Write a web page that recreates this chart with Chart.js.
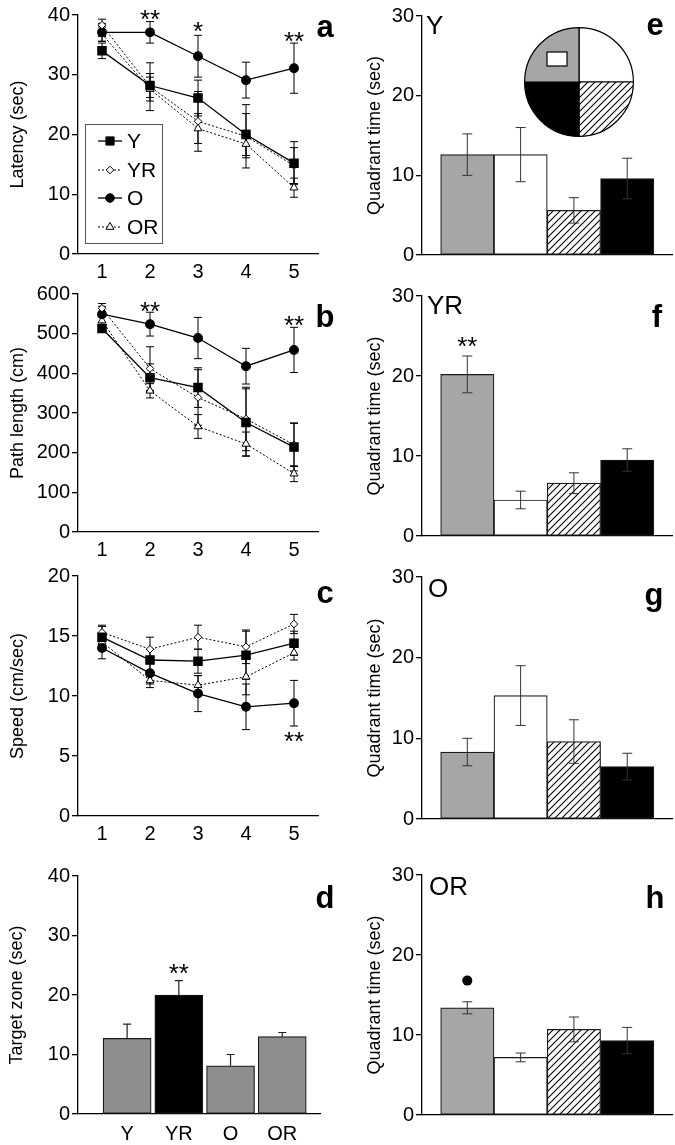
<!DOCTYPE html>
<html>
<head>
<meta charset="utf-8">
<script src="https://cdn.jsdelivr.net/npm/chart.js@4.4.0/dist/chart.umd.min.js"></script>
<style>
  html, body { margin: 0; padding: 0; background: #fff; }
  #wrap { position: relative; width: 675px; height: 1145px; overflow: hidden; }
  canvas { position: absolute; }
</style>
</head>
<body>
<div id="wrap">
  <canvas id="a" width="337" height="280" style="left:0;top:0"></canvas>
  <canvas id="b" width="337" height="280" style="left:0;top:280px"></canvas>
  <canvas id="c" width="337" height="280" style="left:0;top:560px"></canvas>
  <canvas id="d" width="337" height="305" style="left:0;top:840px"></canvas>
  <canvas id="e" width="338" height="280" style="left:337px;top:0"></canvas>
  <canvas id="f" width="338" height="280" style="left:337px;top:280px"></canvas>
  <canvas id="g" width="338" height="280" style="left:337px;top:560px"></canvas>
  <canvas id="h" width="338" height="305" style="left:337px;top:840px"></canvas>
  <canvas id="pie" width="110" height="110" style="left:524px;top:27px"></canvas>
</div>
<script>
const groups = ['Y', 'YR', 'O', 'OR'];
const days = ['1', '2', '3', '4', '5'];

// rows: Y, YR, O, OR
const latency = [
  [34, 28.2, 26.1, 20, 15.2],
  [38.3, 28, 22.2, 19.7, 14.8],
  [37.1, 37.1, 33.1, 29.1, 31.1],
  [36.8, 27.6, 21, 18.4, 11.1]
];
const latencyErr = [
  [1.3, 2.0, 3.0, 3.5, 3.6],
  [1.0, 4.0, 5.0, 5.3, 3.0],
  [1.5, 1.8, 3.5, 3.0, 4.2],
  [1.2, 2.0, 2.5, 2.3, 1.6]
];
const pathLen = [
  [513, 389, 364, 276, 214],
  [564, 412, 339, 285, 220],
  [549, 524, 489, 418, 459],
  [533, 356, 266, 222, 147]
];
const pathErr = [
  [10, 35, 50, 85, 60],
  [12, 55, 70, 80, 55],
  [20, 30, 52, 45, 57],
  [15, 18, 30, 30, 20]
];
const speed = [
  [14.9, 13.0, 12.9, 13.4, 14.4],
  [15.3, 13.9, 14.9, 14.1, 16.0],
  [14.0, 11.9, 10.2, 9.1, 9.4],
  [14.5, 11.3, 10.9, 11.6, 13.6]
];
const speedErr = [
  [0.9, 0.9, 1.0, 2.0, 1.0],
  [0.6, 1.0, 1.0, 1.4, 0.8],
  [0.9, 0.9, 1.5, 1.9, 1.9],
  [0.7, 0.6, 0.8, 1.5, 0.6]
];

const targetZone = [12.7, 20, 8.1, 13];
const targetErr = [2.4, 2.4, 1.9, 0.7];

// quadrants: target (gray), white, hatched, black
const quadY = [12.6, 12.6, 5.6, 9.6];
const quadYErr = [2.6, 3.4, 1.6, 2.55];
const quadYR = [20.2, 4.5, 6.6, 9.5];
const quadYRErr = [2.3, 1.1, 1.3, 1.4];
const quadO = [8.3, 15.3, 9.6, 6.5];
const quadOErr = [1.7, 3.7, 2.7, 1.65];
const quadOR = [13.4, 7.2, 10.7, 9.3];
const quadORErr = [0.75, 0.55, 1.55, 1.65];

const pieParts = [1, 1, 1, 1]; // white, hatched, black, gray (clockwise from top)

const FONT = '"Liberation Sans", Arial, Helvetica, sans-serif';
Chart.defaults.font.family = FONT;
Chart.defaults.color = '#000';

function makeHatch() {
  const t = document.createElement('canvas');
  t.width = 7; t.height = 7;
  const c = t.getContext('2d');
  c.fillStyle = '#fff';
  c.fillRect(0, 0, 7, 7);
  c.strokeStyle = '#000';
  c.lineWidth = 1.1;
  c.beginPath();
  c.moveTo(0, 7); c.lineTo(7, 0);
  c.moveTo(-1, 1); c.lineTo(1, -1);
  c.moveTo(6, 8); c.lineTo(8, 6);
  c.stroke();
  return c.createPattern(t, 'repeat');
}
const hatch = makeHatch();

const lineStyles = [
  { borderColor: '#000', borderWidth: 1.3, pointStyle: 'rect', pointRadius: 5.8, pointBackgroundColor: '#000', pointBorderColor: '#000' },
  { borderColor: '#000', borderWidth: 1, borderDash: [2, 2], pointStyle: 'rectRot', pointRadius: 3.8, pointBackgroundColor: '#fff', pointBorderColor: '#000' },
  { borderColor: '#000', borderWidth: 1.3, pointStyle: 'circle', pointRadius: 4.3, pointBackgroundColor: '#000', pointBorderColor: '#000' },
  { borderColor: '#000', borderWidth: 1, borderDash: [2, 2], pointStyle: 'triangle', pointRadius: 4.6, pointBackgroundColor: '#fff', pointBorderColor: '#000' }
];

// error bars
function drawErrors(chart, opts) {
  const ctx = chart.ctx;
  const ys = chart.scales.y;
  chart.data.datasets.forEach((ds, i) => {
    if (!ds.errors) return;
    const meta = chart.getDatasetMeta(i);
    ctx.save();
    ctx.strokeStyle = opts.color || '#000';
    ctx.lineWidth = opts.width || 1;
    meta.data.forEach((el, j) => {
      const d = ds.data[j];
      const v = typeof d === 'number' ? d : d.y;
      const e = ds.errors[j];
      const x = el.x;
      const top = ys.getPixelForValue(v + e);
      const bot = opts.upOnly ? ys.getPixelForValue(v) : ys.getPixelForValue(v - e);
      const w = opts.cap || 4;
      ctx.beginPath();
      ctx.moveTo(x, top); ctx.lineTo(x, bot);
      ctx.moveTo(x - w, top); ctx.lineTo(x + w, top);
      if (!opts.upOnly) { ctx.moveTo(x - w, bot); ctx.lineTo(x + w, bot); }
      ctx.stroke();
    });
    ctx.restore();
  });
}
const errorBars = {
  id: 'errorBars',
  beforeDatasetsDraw(chart, args, opts) { if (opts.behind) drawErrors(chart, opts); },
  afterDatasetsDraw(chart, args, opts) { if (!opts.behind) drawErrors(chart, opts); }
};

// text labels, significance marks
const notes = {
  id: 'notes',
  afterDraw(chart, args, opts) {
    const ctx = chart.ctx;
    (opts.items || []).forEach(it => {
      let x = it.x, y = it.y;
      if (it.xv !== undefined) {
        x = chart.scales.x.getPixelForValue(it.xv);
        y = chart.scales.y.getPixelForValue(it.yv);
      }
      ctx.save();
      ctx.fillStyle = '#000';
      if (it.dot) {
        ctx.beginPath();
        ctx.arc(x, y, it.dot, 0, Math.PI * 2);
        ctx.fill();
      } else {
        const size = it.size || 26;
        ctx.font = (it.bold ? 'bold ' : '') + size + 'px ' + FONT;
        ctx.textAlign = it.align || 'center';
        ctx.textBaseline = 'alphabetic';
        if (it.star) y += 0.58 * size;
        ctx.fillText(it.text, x, y);
      }
      ctx.restore();
    });
  }
};

// boxed legend for panel a
const boxLegend = {
  id: 'boxLegend',
  afterDraw(chart, args, opts) {
    if (!opts.box) return;
    const ctx = chart.ctx;
    const [bx, by, bw, bh] = opts.box;
    ctx.save();
    ctx.strokeStyle = '#555';
    ctx.lineWidth = 1;
    ctx.strokeRect(bx + 0.5, by + 0.5, bw, bh);
    chart.data.datasets.forEach((ds, i) => {
      const y = opts.rows[i];
      ctx.strokeStyle = '#000';
      ctx.lineWidth = ds.borderWidth;
      ctx.setLineDash(ds.borderDash || []);
      ctx.beginPath();
      ctx.moveTo(opts.lineX[0], y); ctx.lineTo(opts.lineX[1], y);
      ctx.stroke();
      ctx.setLineDash([]);
      ctx.fillStyle = ds.pointBackgroundColor;
      ctx.strokeStyle = ds.pointBorderColor;
      ctx.lineWidth = 1;
      Chart.helpers.drawPoint(ctx, { pointStyle: ds.pointStyle, radius: ds.pointRadius, rotation: 0, borderWidth: 1 }, opts.markX, y);
      ctx.fillStyle = '#000';
      ctx.font = '21px ' + FONT;
      ctx.textAlign = 'left';
      ctx.textBaseline = 'middle';
      ctx.fillText(ds.label, opts.textX, y + 1);
    });
    ctx.restore();
  }
};

function yAxis(max, step, title, width, titlePad) {
  return {
    min: 0, max: max,
    ticks: { stepSize: step, font: { size: 20 }, color: '#000', padding: 2 },
    grid: { drawOnChartArea: false, drawTicks: true, tickLength: 6, color: '#000', lineWidth: 1.3 },
    border: { color: '#000', width: 1.3 },
    title: { display: true, text: title, font: { size: 18 }, color: '#000', padding: { top: titlePad, bottom: 0 } },
    afterFit: s => { s.width = width; }
  };
}

const baseOpts = { responsive: false, animation: false, devicePixelRatio: 1, events: [] };

function linePanel(id, vals, errs, yMax, yStep, yTitle, top, bottom, items, legend) {
  return new Chart(document.getElementById(id), {
    type: 'line',
    data: {
      labels: days,
      datasets: groups.map((g, i) => Object.assign({ label: g, data: vals[i], errors: errs[i], fill: false, tension: 0 }, lineStyles[i]))
    },
    options: Object.assign({}, baseOpts, {
      layout: { padding: { top: top, right: 19, left: 0, bottom: 0 } },
      scales: {
        x: {
          offset: true,
          grid: { display: false, drawTicks: false },
          border: { color: '#000', width: 1.3 },
          ticks: { font: { size: 20 }, color: '#000', padding: 6 },
          afterFit: s => { s.height = 280 - bottom; }
        },
        y: yAxis(yMax, yStep, yTitle, 78, 7)
      },
      plugins: {
        legend: { display: false }, tooltip: { enabled: false },
        errorBars: { behind: true, cap: 4, width: 1 },
        notes: { items: items },
        boxLegend: legend || {}
      }
    }),
    plugins: [errorBars, notes, boxLegend]
  });
}

function quadPanel(id, vals, errs, H, top, bottom, items) {
  return new Chart(document.getElementById(id), {
    type: 'bar',
    data: {
      datasets: [{
        data: vals.map((v, i) => ({ x: i + 1, y: v })),
        errors: errs,
        backgroundColor: ['#a6a6a6', '#ffffff', hatch, '#000000'],
        borderColor: '#1a1a1a', borderWidth: 1.2, borderSkipped: false,
        barThickness: 53.3
      }]
    },
    options: Object.assign({}, baseOpts, {
      layout: { padding: { top: top, right: 3, left: 0, bottom: 0 } },
      scales: {
        x: {
          type: 'linear', min: 0.15, max: 4.84, offset: false,
          ticks: { display: false },
          grid: { display: false, drawTicks: false },
          border: { color: '#000', width: 1.3 },
          afterFit: s => { s.height = H - bottom; }
        },
        y: yAxis(30, 10, 'Quadrant time (sec)', 85, 27)
      },
      plugins: {
        legend: { display: false }, tooltip: { enabled: false },
        errorBars: { cap: 5, color: '#333', width: 1 },
        notes: { items: items }
      }
    }),
    plugins: [errorBars, notes]
  });
}

linePanel('a', latency, latencyErr, 40, 10, 'Latency (sec)', 15, 254, [
  { xv: 1, yv: 40.3, text: '**', star: true },
  { xv: 2, yv: 38.3, text: '*', star: true },
  { xv: 4, yv: 36.7, text: '**', star: true },
  { x: 325, y: 37, text: 'a', bold: true, size: 31 }
], { box: [85, 124, 77, 119], rows: [141, 170, 198, 227], lineX: [98, 122], markX: 110, textX: 127 });

linePanel('b', pathLen, pathErr, 600, 100, 'Path length (cm)', 12, 252, [
  { xv: 1, yv: 573, text: '**', star: true },
  { xv: 4, yv: 538, text: '**', star: true },
  { x: 325, y: 47, text: 'b', bold: true, size: 31 }
]);

linePanel('c', speed, speedErr, 20, 5, 'Speed (cm/sec)', 16, 256, [
  { xv: 4, yv: 6.75, text: '**', star: true },
  { x: 325, y: 43, text: 'c', bold: true, size: 31 }
]);

new Chart(document.getElementById('d'), {
  type: 'bar',
  data: {
    datasets: [{
      data: targetZone.map((v, i) => ({ x: i + 1, y: v })),
      errors: targetErr,
      backgroundColor: ['#8e8e8e', '#000000', '#8e8e8e', '#8e8e8e'],
      borderColor: '#1a1a1a', borderWidth: 1.2, borderSkipped: false,
      barThickness: 48
    }]
  },
  options: Object.assign({}, baseOpts, {
    layout: { padding: { top: 36, right: 17, left: 0, bottom: 0 } },
    scales: {
      x: {
        type: 'linear', min: 0.05, max: 4.73, offset: false,
        afterBuildTicks: s => { s.ticks = groups.map((g, i) => ({ value: i + 1 })); },
        ticks: { font: { size: 20 }, color: '#000', padding: 8, callback: v => groups[v - 1] },
        grid: { display: false, drawTicks: false },
        border: { color: '#000', width: 1.3 },
        afterFit: s => { s.height = 305 - 274; }
      },
      y: yAxis(40, 10, 'Target zone (sec)', 78, 6)
    },
    plugins: {
      legend: { display: false }, tooltip: { enabled: false },
      errorBars: { cap: 4, color: '#222', width: 1.2, upOnly: true },
      notes: { items: [
        { xv: 2, yv: 24.8, text: '**', star: true },
        { x: 325, y: 68, text: 'd', bold: true, size: 31 }
      ] }
    }
  }),
  plugins: [errorBars, notes]
});

quadPanel('e', quadY, quadYErr, 280, 16, 255, [
  { x: 89, y: 34, text: 'Y', align: 'left', size: 26 },
  { x: 318, y: 35, text: 'e', bold: true, size: 31 }
]);
quadPanel('f', quadYR, quadYRErr, 280, 16, 256, [
  { x: 90, y: 34, text: 'YR', align: 'left', size: 26 },
  { xv: 1, yv: 24.5, text: '**', star: true },
  { x: 320, y: 47, text: 'f', bold: true, size: 31 }
]);
quadPanel('g', quadO, quadOErr, 280, 17, 259, [
  { x: 91, y: 37, text: 'O', align: 'left', size: 26 },
  { x: 317, y: 45, text: 'g', bold: true, size: 31 }
]);
quadPanel('h', quadOR, quadORErr, 305, 35, 275, [
  { x: 92, y: 55, text: 'OR', align: 'left', size: 26 },
  { xv: 1, yv: 16.8, dot: 5 },
  { x: 318, y: 68, text: 'h', bold: true, size: 31 }
]);

// quadrant map inset
const platform = {
  id: 'platform',
  afterDraw(chart) {
    const arc = chart.getDatasetMeta(0).data[0];
    const ctx = chart.ctx;
    ctx.save();
    ctx.fillStyle = '#fff';
    ctx.strokeStyle = '#000';
    ctx.lineWidth = 1.2;
    ctx.fillRect(arc.x - 32, arc.y - 30, 20, 14);
    ctx.strokeRect(arc.x - 32, arc.y - 30, 20, 14);
    ctx.restore();
  }
};
new Chart(document.getElementById('pie'), {
  type: 'pie',
  data: {
    datasets: [{
      data: pieParts,
      backgroundColor: ['#ffffff', hatch, '#000000', '#a6a6a6'],
      borderColor: '#000', borderWidth: 1.2
    }]
  },
  options: Object.assign({}, baseOpts, {
    layout: { padding: 0 },
    plugins: { legend: { display: false }, tooltip: { enabled: false } }
  }),
  plugins: [platform]
});
</script>
</body>
</html>
